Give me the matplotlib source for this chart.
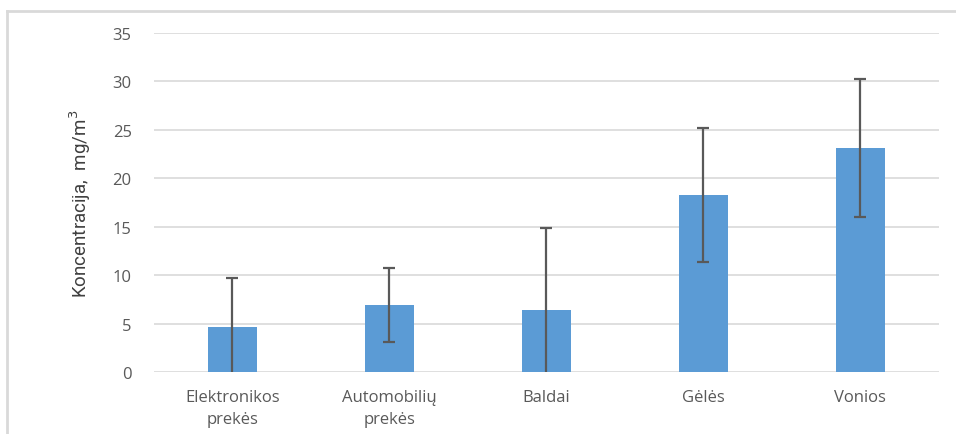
import numpy as np
import matplotlib.pyplot as plt
from matplotlib.lines import Line2D

# Concentration by product group, mean and spread
categories = ["Elektronikos\nprekės", "Automobilių\nprekės", "Baldai", "Gėlės", "Vonios"]
means = [4.6, 6.9, 6.4, 18.3, 23.1]
errors = [5.1, 3.8, 8.5, 6.9, 7.1]
y_ticks = [0, 5, 10, 15, 20, 25, 30, 35]

bar_color = "#5B9BD5"
err_color = "#595959"
grid_color = "#D9D9D9"
text_color = "#595959"

fig = plt.figure(figsize=(9.56, 4.35), dpi=100)
ax = fig.add_axes([0.161, 0.1425, 0.821, 0.7795])

x = np.arange(len(categories))
ax.bar(x, means, width=0.31, color=bar_color, zorder=3)
ax.errorbar(x, means, yerr=errors, fmt="none", ecolor=err_color,
            elinewidth=1.6, capsize=4, capthick=1.6, zorder=4)

ax.set_xlim(-0.5, len(categories) - 0.5)
ax.set_ylim(0, 35)
ax.set_yticks(y_ticks)
ax.set_yticklabels([str(v) for v in y_ticks])
ax.set_xticks(x)
ax.set_xticklabels(categories, linespacing=1.5)

ax.grid(axis="y", color=grid_color, linewidth=1.2, zorder=0)
ax.set_axisbelow(True)
for side in ax.spines.values():
    side.set_visible(False)
ax.tick_params(axis="both", length=0, colors=text_color, labelsize=12)
ax.tick_params(axis="y", pad=16)
ax.tick_params(axis="x", pad=12)
for lbl in ax.get_xticklabels() + ax.get_yticklabels():
    lbl.set_family(["Open Sans", "DejaVu Sans"])

ax.set_ylabel("Koncentracija,  mg/m$^3$", fontsize=13.5, color="#404040",
              family=["Liberation Sans Narrow", "Roboto", "DejaVu Sans"])
ax.yaxis.set_label_coords(-0.078, 0.5)

# Chart frame: top and left edges only
fig.add_artist(Line2D([7 / 956, 1.0], [1 - 12 / 435, 1 - 12 / 435],
                      transform=fig.transFigure, color=grid_color, linewidth=2))
fig.add_artist(Line2D([7 / 956, 7 / 956], [0, 1 - 12 / 435],
                      transform=fig.transFigure, color=grid_color, linewidth=2))

fig.savefig("out.png", dpi=100)
